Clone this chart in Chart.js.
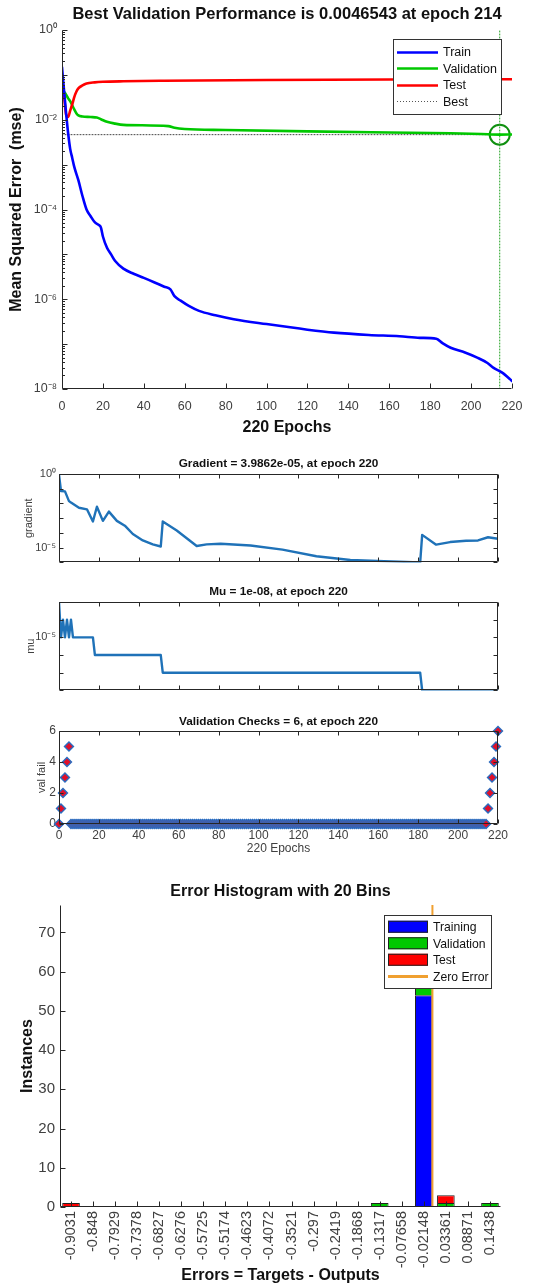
<!DOCTYPE html>
<html>
<head>
<meta charset="utf-8">
<script src="https://cdn.jsdelivr.net/npm/chart.js@4.4.0/dist/chart.umd.min.js"></script>
<style>
  html, body { margin: 0; padding: 0; background: #fff; }
  body { width: 533px; height: 1285px; position: relative; overflow: hidden; }
  canvas { position: absolute; left: 0; }
</style>
</head>
<body>
<canvas id="perfChart" width="533" height="440" style="top:0px"></canvas>
<canvas id="gradChart" width="533" height="132" style="top:440px"></canvas>
<canvas id="muChart" width="533" height="128" style="top:572px"></canvas>
<canvas id="valChart" width="533" height="160" style="top:700px"></canvas>
<canvas id="histChart" width="533" height="425" style="top:860px"></canvas>
<script>
// ---- performance plot ----
const bestEpoch = 214;
const bestPerf = 0.0046543;
const perfYMin = 1e-8, perfYMax = 1;

const trainEpochs = [0, 1, 2, 3, 4, 5, 6, 8, 10, 12, 14, 16, 18, 19, 20, 22, 24, 26, 30, 35, 40, 45, 50, 53, 55, 58, 62, 67, 75, 84, 100, 120, 133, 150, 165, 175, 183, 186, 190, 197, 203, 208, 211, 215, 219, 220];
const trainMse = [0.148, 0.0447, 0.0141, 5.0e-3, 2.24e-3, 1.41e-3, 8.9e-4, 4.5e-4, 2.0e-4, 1.0e-4, 7.1e-5, 5.2e-5, 4.5e-5, 4.0e-5, 2.5e-5, 1.4e-5, 1.0e-5, 7.1e-6, 4.8e-6, 3.7e-6, 3.0e-6, 2.4e-6, 1.9e-6, 1.66e-6, 1.17e-6, 9.3e-7, 7.1e-7, 5.5e-7, 4.4e-7, 3.6e-7, 2.8e-7, 2.1e-7, 1.8e-7, 1.6e-7, 1.5e-7, 1.38e-7, 1.32e-7, 1.05e-7, 8.3e-8, 6.5e-8, 5.0e-8, 3.8e-8, 2.95e-8, 2.35e-8, 1.66e-8, 1.5e-8];

const valEpochs = [0, 1, 2, 3, 4, 5, 6, 7, 8, 10, 14, 17, 19, 22, 26, 30, 52, 55, 60, 80, 120, 160, 190, 205, 214, 220];
const valMse = [0.033, 0.042, 0.036, 0.030, 0.026, 0.021, 0.017, 0.014, 0.0125, 0.0118, 0.0115, 0.0112, 0.0103, 0.0090, 0.0082, 0.0077, 0.0072, 0.0066, 0.0062, 0.0059, 0.0055, 0.0052, 0.0050, 0.0048, 0.0046543, 0.0047];

const testEpochs = [0, 1, 2, 3, 4, 5, 6, 7, 8, 10, 12, 16, 20, 30, 50, 100, 160, 220];
const testMse = [0.09, 0.035, 0.013, 0.0115, 0.016, 0.022, 0.032, 0.042, 0.05, 0.058, 0.064, 0.068, 0.07, 0.072, 0.074, 0.077, 0.079, 0.08];

const perfLabelExps = [0, -2, -4, -6, -8];
const perfLabels = ["10⁰", "10⁻²", "10⁻⁴", "10⁻⁶", "10⁻⁸"];
const perfLegendLabels = ["Train", "Validation", "Test", "Best"];

// ---- training state ----
const gradEpochs = [0, 1, 3, 5, 6, 10, 14, 17, 19, 22, 25, 29, 33, 37, 42, 47, 51, 52, 59, 64, 69, 74, 81, 96, 112, 129, 146, 163, 181, 182, 189, 196, 204, 210, 215, 220];
const gradValues = [0.9, 0.07, 0.066, 0.0145, 0.0115, 0.0051, 0.004, 6.0e-4, 6.0e-3, 6.6e-4, 2.8e-3, 6.6e-4, 3.1e-4, 8.5e-5, 3.1e-5, 1.66e-5, 1.2e-5, 6.0e-4, 1.45e-4, 4.4e-5, 1.3e-5, 1.66e-5, 1.86e-5, 1.4e-5, 7.4e-6, 2.6e-6, 1.45e-6, 1.23e-6, 1.0e-6, 7.4e-5, 1.6e-5, 2.4e-5, 2.95e-5, 3.1e-5, 5.1e-5, 3.9862e-5];
const gradTicks = [1e-6, 1e-5, 1e-4, 1e-3, 1e-2, 1e-1, 1];
const gradLabelExps = [0, -5];
const gradLabels = ["10⁰", "10⁻⁵"];

const muEpochs = [0, 1, 2, 3, 4, 5, 6, 7, 17, 18, 51, 52, 181, 182, 220];
const muValues = [1e-3, 1e-5, 1e-4, 1e-5, 1e-4, 1e-5, 1e-4, 1e-5, 1e-5, 1e-6, 1e-6, 1e-7, 1e-7, 1e-8, 1e-8];
const muTicks = [1e-8, 1e-7, 1e-6, 1e-5, 1e-4, 1e-3];
const muLabelExps = [-5];
const muLabels = ["10⁻⁵"];

// validation failures, one value per epoch 0..220
const valFail = [0, 1, 2, 3, 4, 5,
  0,0,0,0,0,0,0,0,0,0,0,0,0,0,0,0,0,0,0,0,
  0,0,0,0,0,0,0,0,0,0,0,0,0,0,0,0,0,0,0,0,
  0,0,0,0,0,0,0,0,0,0,0,0,0,0,0,0,0,0,0,0,
  0,0,0,0,0,0,0,0,0,0,0,0,0,0,0,0,0,0,0,0,
  0,0,0,0,0,0,0,0,0,0,0,0,0,0,0,0,0,0,0,0,
  0,0,0,0,0,0,0,0,0,0,0,0,0,0,0,0,0,0,0,0,
  0,0,0,0,0,0,0,0,0,0,0,0,0,0,0,0,0,0,0,0,
  0,0,0,0,0,0,0,0,0,0,0,0,0,0,0,0,0,0,0,0,
  0,0,0,0,0,0,0,0,0,0,0,0,0,0,0,0,0,0,0,0,
  0,0,0,0,0,0,0,0,0,0,0,0,0,0,0,0,0,0,0,0,
  0,0,0,0,0,0,0,0,0,
  1, 2, 3, 4, 5, 6];

// ---- error histogram ----
const binLabels = ["-0.9031", "-0.848", "-0.7929", "-0.7378", "-0.6827", "-0.6276", "-0.5725", "-0.5174", "-0.4623", "-0.4072", "-0.3521", "-0.297", "-0.2419", "-0.1868", "-0.1317", "-0.07658", "-0.02148", "0.03361", "0.08871", "0.1438"];
const trainCounts = [0, 0, 0, 0, 0, 0, 0, 0, 0, 0, 0, 0, 0, 0, 0, 0, 54, 0, 0, 0];
const validCounts = [0, 0, 0, 0, 0, 0, 0, 0, 0, 0, 0, 0, 0, 0, 1, 0, 8, 1, 0, 1];
const testCounts  = [1, 0, 0, 0, 0, 0, 0, 0, 0, 0, 0, 0, 0, 0, 0, 0, 8, 2, 0, 0];
const histLegendLabels = ["Training", "Validation", "Test", "Zero Error"];

const FONT = "'Liberation Sans', Arial, Helvetica, sans-serif";
Chart.defaults.font.family = FONT;
Chart.defaults.color = "#404040";

const BLUE = "#0000ff", GREEN = "#00c800", RED = "#ff0000", MBLUE = "#1f72b8", ORANGE = "#f0a030";

const pts = (xs, ys) => xs.map((x, i) => ({ x: x, y: ys[i] }));
const logLabel = (exps, labels) => v => {
  const e = Math.log10(v);
  const i = exps.findIndex(k => Math.abs(k - e) < 1e-6);
  return i >= 0 ? labels[i] : "";
};
const noGrid = { display: false, drawTicks: false };
const noBorder = { display: false };

// title above the axes, centred on the plot box
const plotTitle = {
  id: "plotTitle",
  afterDraw(chart, args, o) {
    const { ctx, chartArea: a } = chart;
    ctx.save();
    ctx.font = o.font;
    ctx.fillStyle = "#111";
    ctx.textAlign = "center";
    ctx.textBaseline = "middle";
    ctx.fillText(o.text, (a.left + a.right) / 2, a.top - o.offset);
    ctx.restore();
  }
};

// matlab style axes: lines plus inward ticks
const axesBox = {
  id: "axesBox",
  afterDatasetsDraw(chart, args, o) {
    const { ctx, chartArea: a, scales } = chart;
    const xs = scales.x, ys = scales.y;
    const L = Math.round(a.left) + 0.5, R = Math.round(a.right) - 0.5;
    const T = Math.round(a.top) + 0.5, B = Math.round(a.bottom) - 0.5;
    const len = o.len || 5, mlen = o.minorLen || 2.5;
    ctx.save();
    ctx.strokeStyle = "#262626";
    ctx.lineWidth = 1;
    ctx.beginPath();
    ctx.moveTo(L, T); ctx.lineTo(L, B); ctx.lineTo(R, B);
    if (o.box) { ctx.lineTo(R, T); ctx.lineTo(L, T); }
    xs.ticks.forEach((t, i) => {
      const px = Math.round(xs.getPixelForTick(i)) + 0.5;
      ctx.moveTo(px, B); ctx.lineTo(px, B - len);
      if (o.box) { ctx.moveTo(px, T); ctx.lineTo(px, T + len); }
    });
    ys.ticks.forEach((t, i) => {
      const py = Math.round(ys.getPixelForTick(i)) + 0.5;
      let l = len;
      if (o.logMinor) {
        const e = Math.log10(t.value);
        if (Math.abs(e - Math.round(e)) > 1e-6) l = mlen;
      }
      ctx.moveTo(L, py); ctx.lineTo(L + l, py);
      if (o.box) { ctx.moveTo(R, py); ctx.lineTo(R - l, py); }
    });
    ctx.stroke();
    ctx.restore();
  }
};

// boxed legend inside the top-right corner of the axes
const boxLegend = {
  id: "boxLegend",
  afterDraw(chart, args, o) {
    const { ctx, chartArea: a } = chart;
    const right = Math.round(a.right - o.right), top = Math.round(a.top + o.top);
    const left = right - o.width;
    const h = o.padY * 2 + o.rowH * o.items.length;
    ctx.save();
    ctx.fillStyle = "#fff";
    ctx.fillRect(left, top, o.width, h);
    ctx.strokeStyle = "#333";
    ctx.lineWidth = 1;
    ctx.strokeRect(left + 0.5, top + 0.5, o.width, h);
    ctx.font = o.font;
    ctx.textBaseline = "middle";
    o.items.forEach((it, i) => {
      const cy = top + o.padY + o.rowH * (i + 0.5);
      const sx = left + 4, ex = sx + o.sample;
      if (it.kind === "patch") {
        ctx.fillStyle = it.color;
        ctx.fillRect(sx, cy - 6, o.sample, 12);
        ctx.strokeStyle = "#222";
        ctx.lineWidth = 1;
        ctx.setLineDash([]);
        ctx.strokeRect(sx + 0.5, cy - 5.5, o.sample - 1, 11);
      } else {
        ctx.strokeStyle = it.color;
        ctx.lineWidth = it.width;
        ctx.setLineDash(it.dash || []);
        ctx.beginPath();
        ctx.moveTo(sx, Math.round(cy) + 0.5);
        ctx.lineTo(ex, Math.round(cy) + 0.5);
        ctx.stroke();
      }
      ctx.setLineDash([]);
      ctx.fillStyle = "#111";
      ctx.fillText(it.label, ex + 5, cy + 1);
    });
    ctx.restore();
  }
};

// zero error marker in the histogram, placed between bin centres
const zeroLine = {
  id: "zeroLine",
  afterDatasetsDraw(chart, args, o) {
    const { ctx, chartArea: a, scales: { x } } = chart;
    const c0 = Number(binLabels[0]), c1 = Number(binLabels[1]);
    const px = x.getPixelForValue((0 - c0) / (c1 - c0));
    ctx.save();
    ctx.strokeStyle = ORANGE;
    ctx.lineWidth = 2;
    ctx.beginPath();
    ctx.moveTo(px, a.top); ctx.lineTo(px, a.bottom);
    ctx.stroke();
    ctx.restore();
  }
};

const lineBase = { pointRadius: 0, fill: false, borderCapStyle: "round", borderJoinStyle: "round" };

// ---------- 1. performance ----------
new Chart(document.getElementById("perfChart"), {
  type: "line",
  data: {
    datasets: [
      { ...lineBase, label: "Train", data: pts(trainEpochs, trainMse), borderColor: BLUE, borderWidth: 2.6, cubicInterpolationMode: "monotone" },
      { ...lineBase, label: "Test", data: pts(testEpochs, testMse), borderColor: RED, borderWidth: 2.6, cubicInterpolationMode: "monotone" },
      { ...lineBase, label: "Validation", data: pts(valEpochs, valMse), borderColor: GREEN, borderWidth: 2.6, cubicInterpolationMode: "monotone" },
      { ...lineBase, label: "Best", data: [{ x: 0, y: bestPerf }, { x: bestEpoch, y: bestPerf }], borderColor: "#444", borderWidth: 1, borderDash: [1, 2] },
      { ...lineBase, data: [{ x: bestEpoch, y: perfYMin }, { x: bestEpoch, y: perfYMax }], borderColor: "#20a020", borderWidth: 1, borderDash: [1, 2] },
      { data: [{ x: bestEpoch, y: bestPerf }], showLine: false, pointRadius: 10, pointBorderWidth: 2, pointBorderColor: "#109010", pointBackgroundColor: "rgba(0,0,0,0)", clip: false }
    ]
  },
  options: {
    responsive: false, animation: false, devicePixelRatio: 1, events: [],
    layout: { padding: { left: 0, right: 21, top: 30, bottom: 0 } },
    plugins: {
      legend: { display: false }, tooltip: { enabled: false },
      plotTitle: { text: "Best Validation Performance is 0.0046543 at epoch 214", font: "bold 16.5px " + FONT, offset: 16 },
      axesBox: { box: false, len: 5, minorLen: 2.5, logMinor: true },
      boxLegend: {
        right: 11, top: 9, width: 108, padY: 4.5, rowH: 16.5, sample: 41, font: "12.5px " + FONT,
        items: [
          { label: perfLegendLabels[0], color: BLUE, width: 2.6 },
          { label: perfLegendLabels[1], color: GREEN, width: 2.6 },
          { label: perfLegendLabels[2], color: RED, width: 2.6 },
          { label: perfLegendLabels[3], color: "#555", width: 1, dash: [1, 2] }
        ]
      }
    },
    scales: {
      x: {
        type: "linear", min: 0, max: 220,
        ticks: { stepSize: 20, maxRotation: 0, font: { size: 12.5 }, padding: 10 },
        grid: noGrid, border: noBorder,
        title: { display: true, text: "220 Epochs", color: "#111", font: { size: 16, weight: "bold" }, padding: { top: 0, bottom: 3 } },
        afterFit: s => { s.height = 51; }
      },
      y: {
        type: "logarithmic", min: perfYMin, max: perfYMax,
        afterBuildTicks: s => {
          const t = [];
          for (let e = -8; e < 0; e++) for (let m = 1; m < 10; m++) t.push({ value: m * Math.pow(10, e) });
          t.push({ value: 1 });
          s.ticks = t;
        },
        ticks: { autoSkip: false, callback: logLabel(perfLabelExps, perfLabels), font: { size: 12.5 }, padding: 5 },
        grid: noGrid, border: noBorder,
        title: { display: true, text: "Mean Squared Error  (mse)", color: "#111", font: { size: 16, weight: "bold" }, padding: { top: 7, bottom: 0 } },
        afterFit: s => { s.width = 62; }
      }
    }
  },
  plugins: [axesBox, plotTitle, boxLegend]
});

// ---------- 2. gradient ----------
new Chart(document.getElementById("gradChart"), {
  type: "line",
  data: { datasets: [{ ...lineBase, data: pts(gradEpochs, gradValues), borderColor: MBLUE, borderWidth: 2.4, tension: 0 }] },
  options: {
    responsive: false, animation: false, devicePixelRatio: 1, events: [],
    layout: { padding: { left: 0, right: 35, top: 34, bottom: 0 } },
    plugins: {
      legend: { display: false }, tooltip: { enabled: false },
      plotTitle: { text: "Gradient = 3.9862e-05, at epoch 220", font: "bold 11.8px " + FONT, offset: 10 },
      axesBox: { box: true, len: 4 }
    },
    scales: {
      x: {
        type: "linear", min: 0, max: 220, ticks: { stepSize: 20, display: false },
        grid: noGrid, border: noBorder, afterFit: s => { s.height = 8; }
      },
      y: {
        type: "logarithmic", min: gradTicks[0], max: gradTicks[gradTicks.length - 1],
        afterBuildTicks: s => { s.ticks = gradTicks.map(v => ({ value: v })); },
        ticks: { autoSkip: false, callback: logLabel(gradLabelExps, gradLabels), font: { size: 11 }, padding: 3 },
        grid: noGrid, border: noBorder,
        title: { display: true, text: "gradient", font: { size: 11 }, padding: { top: 22, bottom: 0 } },
        afterFit: s => { s.width = 59; }
      }
    }
  },
  plugins: [axesBox, plotTitle]
});

// ---------- 3. mu ----------
new Chart(document.getElementById("muChart"), {
  type: "line",
  data: { datasets: [{ ...lineBase, data: pts(muEpochs, muValues), borderColor: MBLUE, borderWidth: 2.4, tension: 0 }] },
  options: {
    responsive: false, animation: false, devicePixelRatio: 1, events: [],
    layout: { padding: { left: 0, right: 35, top: 30, bottom: 0 } },
    plugins: {
      legend: { display: false }, tooltip: { enabled: false },
      plotTitle: { text: "Mu = 1e-08, at epoch 220", font: "bold 11.8px " + FONT, offset: 10 },
      axesBox: { box: true, len: 4 }
    },
    scales: {
      x: {
        type: "linear", min: 0, max: 220, ticks: { stepSize: 20, display: false },
        grid: noGrid, border: noBorder, afterFit: s => { s.height = 6; }
      },
      y: {
        type: "logarithmic", min: muTicks[0], max: muTicks[muTicks.length - 1],
        afterBuildTicks: s => { s.ticks = muTicks.map(v => ({ value: v })); },
        ticks: { autoSkip: false, callback: logLabel(muLabelExps, muLabels), font: { size: 11 }, padding: 3 },
        grid: noGrid, border: noBorder,
        title: { display: true, text: "mu", font: { size: 11 }, padding: { top: 24, bottom: 0 } },
        afterFit: s => { s.width = 59; }
      }
    }
  },
  plugins: [axesBox, plotTitle]
});

// ---------- 4. validation checks ----------
new Chart(document.getElementById("valChart"), {
  type: "line",
  data: {
    datasets: [{
      data: valFail.map((v, i) => ({ x: i, y: v })), showLine: false, clip: false,
      pointStyle: "rectRot", pointRadius: 4.5, pointBackgroundColor: "#e0102a", pointBorderColor: "#2a6cc0", pointBorderWidth: 1.4
    }]
  },
  options: {
    responsive: false, animation: false, devicePixelRatio: 1, events: [],
    layout: { padding: { left: 0, right: 35, top: 31, bottom: 0 } },
    plugins: {
      legend: { display: false }, tooltip: { enabled: false },
      plotTitle: { text: "Validation Checks = 6, at epoch 220", font: "bold 11.8px " + FONT, offset: 9 },
      axesBox: { box: true, len: 4 }
    },
    scales: {
      x: {
        type: "linear", min: 0, max: 220,
        ticks: { stepSize: 20, maxRotation: 0, font: { size: 12 }, padding: 4 },
        grid: noGrid, border: noBorder,
        title: { display: true, text: "220 Epochs", font: { size: 12 }, padding: { top: 0, bottom: 4 } },
        afterFit: s => { s.height = 36; }
      },
      y: {
        type: "linear", min: 0, max: 6,
        ticks: { stepSize: 2, font: { size: 12 }, padding: 3 },
        grid: noGrid, border: noBorder,
        title: { display: true, text: "val fail", font: { size: 11 }, padding: { top: 35, bottom: 0 } },
        afterFit: s => { s.width = 59; }
      }
    }
  },
  plugins: [axesBox, plotTitle]
});

// ---------- 5. error histogram ----------
const barBase = { borderColor: "#222", borderWidth: 1, barPercentage: 0.8, categoryPercentage: 1 };
new Chart(document.getElementById("histChart"), {
  type: "bar",
  data: {
    labels: binLabels,
    datasets: [
      { ...barBase, label: "Training", data: trainCounts, backgroundColor: BLUE },
      { ...barBase, label: "Validation", data: validCounts, backgroundColor: GREEN },
      { ...barBase, label: "Test", data: testCounts, backgroundColor: RED }
    ]
  },
  options: {
    responsive: false, animation: false, devicePixelRatio: 1, events: [],
    layout: { padding: { left: 0, right: 32, top: 45, bottom: 0 } },
    plugins: {
      legend: { display: false }, tooltip: { enabled: false },
      plotTitle: { text: "Error Histogram with 20 Bins", font: "bold 16px " + FONT, offset: 13 },
      axesBox: { box: false, len: 5 },
      boxLegend: {
        right: 10, top: 10, width: 107, padY: 3.5, rowH: 16.5, sample: 40, font: "12.2px " + FONT,
        items: [
          { label: histLegendLabels[0], color: BLUE, kind: "patch" },
          { label: histLegendLabels[1], color: GREEN, kind: "patch" },
          { label: histLegendLabels[2], color: RED, kind: "patch" },
          { label: histLegendLabels[3], color: ORANGE, width: 3 }
        ]
      }
    },
    scales: {
      x: {
        stacked: true,
        ticks: { autoSkip: false, minRotation: 90, maxRotation: 90, font: { size: 14.5 }, padding: 4 },
        grid: noGrid, border: noBorder,
        title: { display: true, text: "Errors = Targets - Outputs", color: "#111", font: { size: 16, weight: "bold" }, padding: { top: 0, bottom: 0 } },
        afterFit: s => { s.height = 78; }
      },
      y: {
        stacked: true, min: 0, max: 77,
        ticks: { stepSize: 10, includeBounds: false, font: { size: 15 }, padding: 5 },
        grid: noGrid, border: noBorder,
        title: { display: true, text: "Instances", color: "#111", font: { size: 16, weight: "bold" }, padding: { top: 18, bottom: 0 } },
        afterFit: s => { s.width = 60; }
      }
    }
  },
  plugins: [zeroLine, axesBox, plotTitle, boxLegend]
});
</script>
</body>
</html>
